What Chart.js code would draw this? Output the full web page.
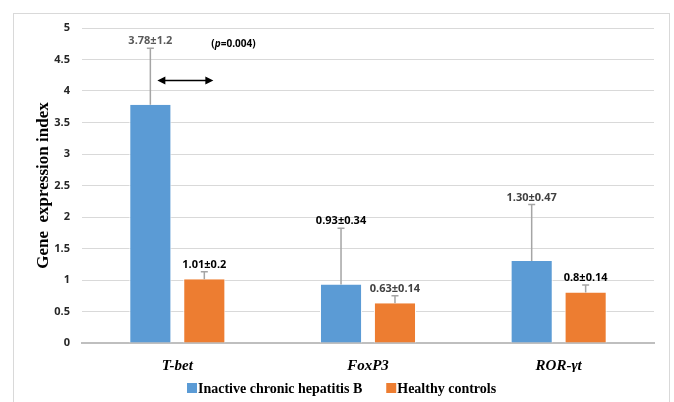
<!DOCTYPE html>
<html>
<head>
<meta charset="utf-8">
<script src="https://cdn.jsdelivr.net/npm/chart.js@4"></script>
<style>
  html, body { margin: 0; padding: 0; background: #fff; }
  #wrap { width: 674px; height: 402px; position: relative; }
</style>
</head>
<body>
<div id="wrap"><canvas id="geneChart"></canvas></div>
<script>
const categories = ['T-bet', 'FoxP3', 'ROR-γt'];
const inactiveValues = [3.78, 0.93, 1.30];
const controlValues = [1.01, 0.63, 0.8];
// upper error bar length as drawn in the figure
const inactiveErr = [0.9, 0.89, 0.9];
const controlErr = [0.12, 0.12, 0.12];
const inactiveLabels = ['3.78±1.2', '0.93±0.34', '1.30±0.47'];
const controlLabels = ['1.01±0.2', '0.63±0.14', '0.8±0.14'];
const inactiveLabelColors = ['#595959', '#000', '#404040'];
const controlLabelColors = ['#000', '#404040', '#000'];
const yTicks = [0, 0.5, 1, 1.5, 2, 2.5, 3, 3.5, 4, 4.5, 5];
const pValue = '0.004';
const arrowLevel = 4.18;

const errBars = {
  id: 'errBars',
  beforeDraw(chart) {
    const c = chart.ctx;
    c.save();
    c.strokeStyle = '#d9d9d9';
    c.lineWidth = 1;
    c.strokeRect(13.5, 13.5, 656, 400);
    c.restore();
  },
  afterDatasetsDraw(chart) {
    const c = chart.ctx;
    const y = chart.scales.y;
    const errs = [inactiveErr, controlErr];
    const labels = [inactiveLabels, controlLabels];
    const colors = [inactiveLabelColors, controlLabelColors];
    c.save();
    chart.data.datasets.forEach((ds, di) => {
      chart.getDatasetMeta(di).data.forEach((bar, i) => {
        const top = y.getPixelForValue(ds.data[i] + errs[di][i]);
        c.strokeStyle = '#a5a5a5';
        c.lineWidth = 1.5;
        c.beginPath();
        c.moveTo(bar.x, bar.y);
        c.lineTo(bar.x, top);
        c.moveTo(bar.x - 3.5, top);
        c.lineTo(bar.x + 3.5, top);
        c.stroke();
        c.fillStyle = colors[di][i];
        c.font = 'bold 11px "Open Sans"';
        c.textAlign = 'center';
        c.textBaseline = 'middle';
        c.fillText(labels[di][i], bar.x, top - 7);
      });
    });

    // significance arrow next to the T-bet bar
    const b0 = chart.getDatasetMeta(0).data[0];
    const ay = Math.round(y.getPixelForValue(arrowLevel)) + 0.5;
    const x1 = b0.x + 7, x2 = b0.x + 63;
    c.strokeStyle = '#000';
    c.fillStyle = '#000';
    c.lineWidth = 1.5;
    c.beginPath();
    c.moveTo(x1 + 6, ay);
    c.lineTo(x2 - 6, ay);
    c.stroke();
    c.beginPath();
    c.moveTo(x1, ay); c.lineTo(x1 + 8, ay - 4); c.lineTo(x1 + 8, ay + 4); c.closePath();
    c.moveTo(x2, ay); c.lineTo(x2 - 8, ay - 4); c.lineTo(x2 - 8, ay + 4); c.closePath();
    c.fill();

    // p value
    const py = y.getPixelForValue(4.75);
    let px = b0.x + 61;
    c.textAlign = 'left';
    c.textBaseline = 'middle';
    c.fillStyle = '#000';
    const parts = [['(', 'bold 10px "Open Sans"'], ['p', 'italic bold 10px "Open Sans"'], ['=' + pValue + ')', 'bold 10px "Open Sans"']];
    parts.forEach(([t, f]) => {
      c.font = f;
      c.fillText(t, px, py);
      px += c.measureText(t).width;
    });

    // legend, drawn by hand to match the Excel spacing
    c.font = 'bold 14px "Liberation Serif"';
    const sets = chart.data.datasets;
    const widths = sets.map(d => c.measureText(d.label).width);
    const total = widths.reduce((a, w) => a + w + 11, 0) + 24;
    let lx = Math.round(342 - total / 2);
    const ly = 388;
    sets.forEach((d, i) => {
      c.fillStyle = d.backgroundColor;
      c.fillRect(lx, ly - 5, 10, 10);
      c.fillStyle = '#000';
      c.fillText(d.label, lx + 11, ly + 1);
      lx += 11 + widths[i] + 24;
    });
    c.restore();
  }
};

new Chart(document.getElementById('geneChart'), {
  type: 'bar',
  data: {
    labels: categories,
    datasets: [
      {
        label: 'Inactive chronic hepatitis B',
        data: inactiveValues,
        backgroundColor: '#5b9bd5',
        borderColor: '#ffffff',
        borderWidth: { left: 1, right: 1, top: 0, bottom: 0 },
        categoryPercentage: 0.566,
        barPercentage: 0.78
      },
      {
        label: 'Healthy controls',
        data: controlValues,
        backgroundColor: '#ed7d31',
        borderColor: '#ffffff',
        borderWidth: { left: 1, right: 1, top: 0, bottom: 0 },
        categoryPercentage: 0.566,
        barPercentage: 0.78
      }
    ]
  },
  options: {
    responsive: true,
    maintainAspectRatio: false,
    animation: false,
    layout: { padding: { left: 0, right: 20, top: 28, bottom: 30 } },
    plugins: {
      tooltip: { enabled: false },
      legend: { display: false }
    },
    scales: {
      x: {
        grid: { display: false },
        border: { color: '#bfbfbf', width: 2 },
        ticks: {
          color: '#000',
          padding: 6,
          font: { family: '"Liberation Serif"', weight: 'bold', style: 'italic', size: 15 }
        },
        afterFit: s => { s.height = 29; }
      },
      y: {
        min: 0,
        max: 5,
        afterBuildTicks: s => { s.ticks = yTicks.map(v => ({ value: v })); },
        grid: { color: '#d9d9d9', drawTicks: false },
        border: { display: false },
        ticks: {
          color: '#262626',
          padding: 12,
          font: { family: '"Open Sans"', weight: 'bold', size: 11 },
          callback: v => String(v)
        },
        title: {
          display: true,
          text: 'Gene  expression index',
          color: '#000',
          padding: { top: 33, bottom: 0 },
          font: { family: '"Liberation Serif"', weight: 'bold', size: 17 }
        },
        afterFit: s => { s.width = 82; }
      }
    }
  },
  plugins: [errBars]
});
</script>
</body>
</html>
